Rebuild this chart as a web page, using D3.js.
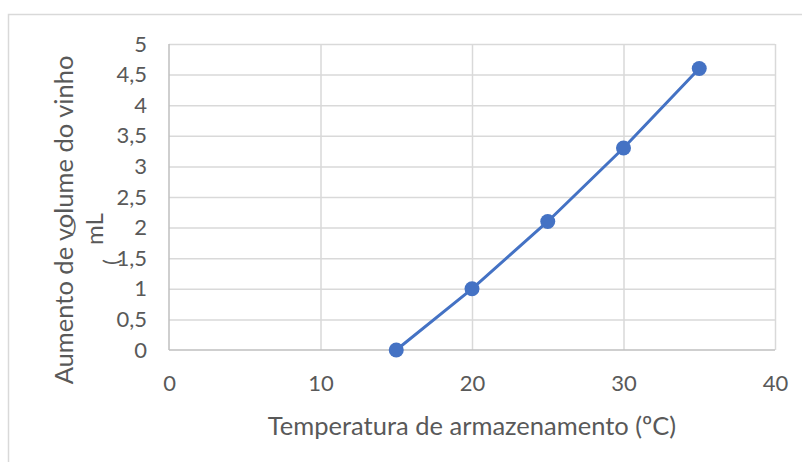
<!DOCTYPE html>
<html>
<head>
<meta charset="utf-8">
<script src="https://cdn.jsdelivr.net/npm/d3@7"></script>
<style>
  html, body { margin: 0; padding: 0; background: #fff; }
  svg { display: block; }
  text { font-family: Lato, "Open Sans", sans-serif; fill: #595959; }
</style>
</head>
<body>
<svg id="chart" width="802" height="462"></svg>
<script>
// Temperatura de armazenamento (ºC) vs. aumento de volume do vinho (mL)
const temperatures = [15, 20, 25, 30, 35];
const volumeIncrease = [0, 1, 2.1, 3.3, 4.6];
const xTicks = [0, 10, 20, 30, 40];
const yTicks = [0, 0.5, 1, 1.5, 2, 2.5, 3, 3.5, 4, 4.5, 5];
const xTitle = "Temperatura de armazenamento (ºC)";
const yTitle = "Aumento de volume do vinho";
const yUnit = "mL";

const W = 802, H = 462;
const plot = { left: 169, right: 775, top: 44, bottom: 350 };
const blue = "#4472C4";
const gridColor = "#d9d9d9";
const axisColor = "#bfbfbf";

const svg = d3.select("#chart");
svg.append("rect").attr("width", W).attr("height", H).attr("fill", "#fff");

// chart area frame (runs off the right and bottom edges)
svg.append("rect")
  .attr("x", 8.5).attr("y", 14.5)
  .attr("width", W + 20).attr("height", H + 20)
  .attr("fill", "none").attr("stroke", gridColor).attr("stroke-width", 1.5);

const x = d3.scaleLinear().domain([0, 40]).range([plot.left, plot.right]);
const y = d3.scaleLinear().domain([0, 5]).range([plot.bottom, plot.top]);
const fmt = d => d3.format("")(d).replace(".", ",");

// gridlines
const yGrid = d3.axisLeft(y).tickValues(yTicks.filter(d => d > 0))
  .tickSize(-(plot.right - plot.left)).tickFormat("");
svg.append("g").attr("transform", `translate(${plot.left},0)`).call(yGrid)
  .call(g => g.select(".domain").remove())
  .call(g => g.selectAll("line").attr("stroke", gridColor).attr("stroke-width", 1.5));

const xGrid = d3.axisBottom(x).tickValues(xTicks.filter(d => d > 0))
  .tickSize(-(plot.bottom - plot.top)).tickFormat("");
svg.append("g").attr("transform", `translate(0,${plot.bottom})`).call(xGrid)
  .call(g => g.select(".domain").remove())
  .call(g => g.selectAll("line").attr("stroke", gridColor).attr("stroke-width", 1.5));

// axis lines
svg.append("line").attr("x1", plot.left).attr("x2", plot.left)
  .attr("y1", plot.top).attr("y2", plot.bottom)
  .attr("stroke", axisColor).attr("stroke-width", 1.5);
svg.append("line").attr("x1", plot.left).attr("x2", plot.right)
  .attr("y1", plot.bottom).attr("y2", plot.bottom)
  .attr("stroke", axisColor).attr("stroke-width", 1.5);

// tick labels
const yAxis = d3.axisLeft(y).tickValues(yTicks).tickSize(0).tickPadding(22).tickFormat(fmt);
svg.append("g").attr("transform", `translate(${plot.left},0)`).call(yAxis)
  .call(g => g.select(".domain").remove())
  .call(g => g.selectAll("text").attr("font-size", 22).attr("font-family", "Lato")
    .attr("fill", "#595959"));

const xAxis = d3.axisBottom(x).tickValues(xTicks).tickSize(0).tickPadding(25).tickFormat(fmt);
svg.append("g").attr("transform", `translate(0,${plot.bottom})`).call(xAxis)
  .call(g => g.select(".domain").remove())
  .call(g => g.selectAll("text").attr("font-size", 22).attr("font-family", "Lato")
    .attr("fill", "#595959"));

// series line and markers
const line = d3.line().x((d, i) => x(temperatures[i])).y(d => y(d));
svg.append("path").datum(volumeIncrease)
  .attr("d", line).attr("fill", "none")
  .attr("stroke", blue).attr("stroke-width", 3).attr("stroke-linejoin", "round");
svg.selectAll("circle.pt").data(volumeIncrease).join("circle")
  .attr("class", "pt")
  .attr("cx", (d, i) => x(temperatures[i])).attr("cy", d => y(d))
  .attr("r", 7.5).attr("fill", blue);

// axis titles
svg.append("text").attr("x", (plot.left + plot.right) / 2).attr("y", 435)
  .attr("text-anchor", "middle").attr("font-size", 25.5).text(xTitle);

svg.append("text")
  .attr("transform", "translate(73,220) rotate(-90)")
  .attr("text-anchor", "middle").attr("font-size", 25.5).text(yTitle);

// second title line: unit and its loose brackets
svg.append("text")
  .attr("transform", "translate(103,229) rotate(-90)")
  .attr("text-anchor", "middle").attr("font-size", 24).text(yUnit);
svg.append("text")
  .attr("transform", "translate(119,262) rotate(-90)")
  .attr("text-anchor", "middle").attr("font-size", 22).text("(");
svg.append("text")
  .attr("x", 74).attr("y", 232)
  .attr("text-anchor", "middle").attr("font-size", 17).text(")");
</script>
</body>
</html>
